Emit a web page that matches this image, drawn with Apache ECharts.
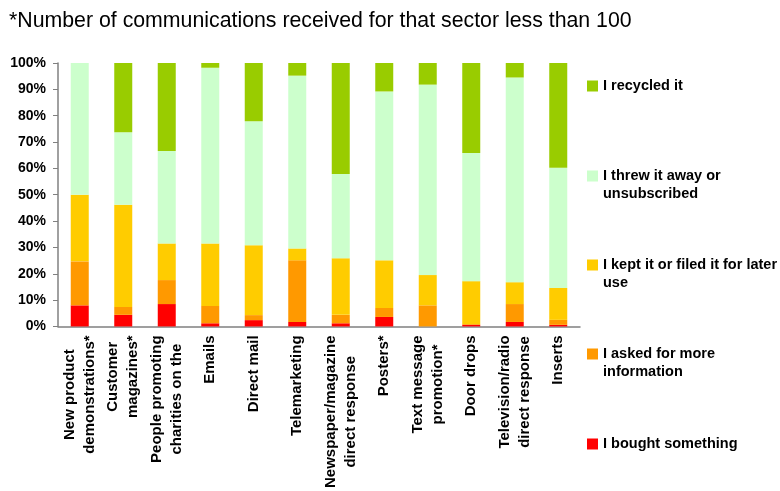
<!DOCTYPE html>
<html>
<head>
<meta charset="utf-8">
<script src="https://cdn.jsdelivr.net/npm/echarts@6/dist/echarts.min.js"></script>
<style>
  html, body { margin: 0; padding: 0; background: #fff; }
  #chart { width: 780px; height: 491px; }
</style>
</head>
<body>
<div id="chart"></div>
<script>
// Sectors (x axis), two-line labels
const categories = [
  'New product\ndemonstrations*',
  'Customer\nmagazines*',
  'People promoting\ncharities on the',
  'Emails',
  'Direct mail',
  'Telemarketing',
  'Newspaper/magazine\ndirect response',
  'Posters*',
  'Text message\npromotion*',
  'Door drops',
  'Television/radio\ndirect response',
  'Inserts'
];

// Share of responses per sector, in percent (stacked bottom to top)
const boughtSomething = [8.0, 4.4, 8.5, 1.2, 2.4, 1.7, 1.2, 3.6, 0.0, 0.6, 1.7, 0.6];
const askedForInfo    = [16.7, 3.0, 9.1, 6.6, 1.9, 23.4, 3.2, 3.4, 8.0, 0.3, 6.8, 1.9];
const keptOrFiled     = [25.3, 38.8, 13.9, 23.7, 26.5, 4.5, 21.5, 18.1, 11.5, 16.3, 8.3, 12.1];
const threwAway       = [50.0, 27.5, 35.1, 66.7, 47.1, 65.6, 32.0, 64.1, 72.3, 48.6, 77.7, 45.6];
const recycled        = [0.0, 26.3, 33.4, 1.8, 22.1, 4.8, 42.1, 10.8, 8.2, 34.2, 5.5, 39.8];

const seriesNames = [
  'I bought something',
  'I asked for more information',
  'I kept it or filed it for later use',
  'I threw it away or unsubscribed',
  'I recycled it'
];
// Legend text as drawn, with manual line breaks
const legendLabels = {
  'I recycled it': 'I recycled it',
  'I threw it away or unsubscribed': 'I threw it away or\nunsubscribed',
  'I kept it or filed it for later use': 'I kept it or filed it for later\nuse',
  'I asked for more information': 'I asked for more\ninformation',
  'I bought something': 'I bought something'
};
const seriesValues = [boughtSomething, askedForInfo, keptOrFiled, threwAway, recycled];
const seriesColors = ['#FF0000', '#FF9900', '#FFCC00', '#CCFFCC', '#99CC00'];

const yTicks = { min: 0, max: 100, interval: 10 };

const FONT = 'Arial, "Liberation Sans", sans-serif';
const LEGEND_LINE = 18;

// Square legend marker sitting level with the first of two text lines:
// the path box is as tall as the two-line text block, the square fills its upper part.
const twoLineIcon = 'path://M0,0L0.001,0M0,3.5L11,3.5L11,14.5L0,14.5ZM11,36L10.999,36';

// One legend block per item, top to bottom (first text line centre = top + 9)
const legendOrder = seriesNames.slice().reverse();
const legendLineCentres = [86, 176, 265, 354, 444];
const legends = legendOrder.map((name, i) => {
  const twoLines = legendLabels[name].indexOf('\n') >= 0;
  return {
    show: true,
    data: [name],
    orient: 'vertical',
    left: 587,
    top: legendLineCentres[i] - 9,
    padding: 0,
    itemWidth: 11,
    itemHeight: twoLines ? 2 * LEGEND_LINE : 11,
    icon: twoLines ? twoLineIcon : 'rect',
    symbolKeepAspect: false,
    selectedMode: false,
    formatter: n => legendLabels[n],
    textStyle: {
      fontFamily: FONT,
      fontWeight: 'bold',
      fontSize: 14.5,
      color: '#000',
      lineHeight: LEGEND_LINE
    }
  };
});

const chart = echarts.init(document.getElementById('chart'), null, { renderer: 'canvas' });

chart.setOption({
  animation: false,
  backgroundColor: '#fff',
  title: {
    text: '*Number of communications received for that sector less than 100',
    left: 4,
    top: 6,
    textStyle: { fontFamily: FONT, fontWeight: 'normal', fontSize: 21.3, color: '#000' }
  },
  legend: legends,
  grid: { left: 58, right: 200, top: 63, bottom: 163, containLabel: false },
  xAxis: {
    type: 'category',
    data: categories,
    axisLine: { lineStyle: { color: '#808080', width: 1.5 } },
    axisTick: { show: false },
    axisLabel: {
      rotate: 90,
      interval: 0,
      margin: 9,
      // each line centred within its label block
      formatter: v => v.split('\n').map(s => '{c|' + s + '}').join('\n'),
      rich: {
        c: {
          align: 'center',
          fontFamily: FONT,
          fontWeight: 'bold',
          fontSize: 15,
          lineHeight: 20,
          color: '#000'
        }
      },
      fontFamily: FONT,
      fontWeight: 'bold',
      fontSize: 15,
      lineHeight: 20,
      color: '#000'
    }
  },
  yAxis: {
    type: 'value',
    min: yTicks.min,
    max: yTicks.max,
    interval: yTicks.interval,
    axisLine: { show: true, lineStyle: { color: '#808080', width: 1.5 } },
    axisTick: { show: true, length: 5, lineStyle: { color: '#808080' } },
    splitLine: { show: false },
    axisLabel: {
      formatter: '{value}%',
      margin: 12,
      fontFamily: FONT,
      fontWeight: 'bold',
      fontSize: 14,
      color: '#000'
    }
  },
  series: seriesNames.map((name, i) => ({
    name: name,
    type: 'bar',
    stack: 'total',
    barWidth: 18,
    itemStyle: { color: seriesColors[i] },
    data: seriesValues[i]
  }))
});
</script>
</body>
</html>
